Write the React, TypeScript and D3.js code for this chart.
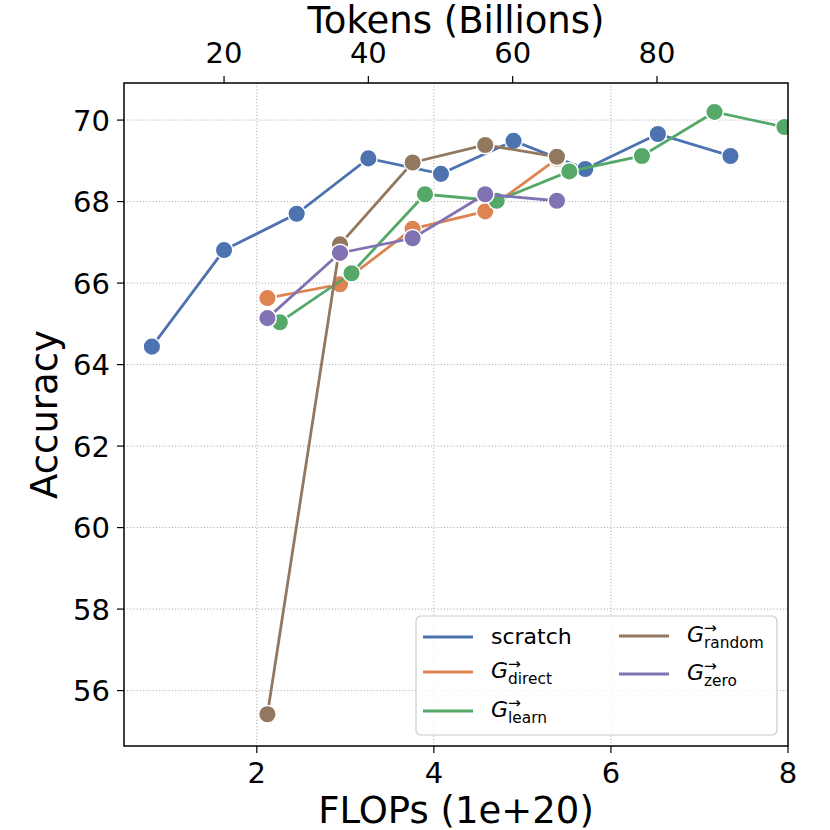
import * as d3 from "d3";

// FLOPs (1e+20) on x, accuracy on y
const scratchFlops = [0.815, 1.63, 2.45, 3.26, 4.08, 4.9, 5.71, 6.53, 7.35];
const scratchAcc = [64.44, 66.81, 67.7, 69.06, 68.68, 69.49, 68.8, 69.66, 69.12];

const directFlops = [2.12, 2.94, 3.76, 4.58, 5.39];
const directAcc = [65.63, 65.97, 67.33, 67.76, 69.05];

const learnFlops = [2.26, 3.07, 3.9, 4.71, 5.53, 6.35, 7.17, 7.96];
const learnAcc = [65.04, 66.24, 68.18, 68.02, 68.74, 69.12, 70.2, 69.83];

const randomFlops = [2.12, 2.94, 3.76, 4.58, 5.39];
const randomAcc = [55.42, 66.95, 68.96, 69.39, 69.1];

const zeroFlops = [2.12, 2.94, 3.76, 4.58, 5.39];
const zeroAcc = [65.14, 66.74, 67.1, 68.18, 68.02];

const xTicks = [2, 4, 6, 8];
const yTicks = [56, 58, 60, 62, 64, 66, 68, 70];
const tokenTicks = [20, 40, 60, 80];
const tokensPerFlop = 12.27;

const colors = {
  scratch: "#4C72B0",
  direct: "#DD8452",
  learn: "#55A868",
  random: "#937860",
  zero: "#8172B3",
};

const series = [
  { key: "scratch", x: scratchFlops, y: scratchAcc, color: colors.scratch },
  { key: "direct", x: directFlops, y: directAcc, color: colors.direct },
  { key: "learn", x: learnFlops, y: learnAcc, color: colors.learn },
  { key: "random", x: randomFlops, y: randomAcc, color: colors.random },
  { key: "zero", x: zeroFlops, y: zeroAcc, color: colors.zero },
];

const W = 830;
const H = 830;
const left = 124;
const right = 788;
const top = 83;
const bottom = 746;
const font = "DejaVu Sans";
const tickSize = 29;
const labelSize = 37;

const x = d3.scaleLinear().domain([0.5, 8]).range([left, right]);
const y = d3.scaleLinear().domain([54.64, 70.91]).range([bottom, top]);
const xTop = d3
  .scaleLinear()
  .domain([0.5 * tokensPerFlop, 8 * tokensPerFlop])
  .range([left, right]);

const line = d3
  .line<[number, number]>()
  .x((d) => x(d[0]))
  .y((d) => y(d[1]));

// italic G with an arrow on top and a subscript, as one text element
const LegendLabel = (props: { lx: number; ly: number; sub?: string; text?: string }) => {
  const { lx, ly, sub, text } = props;
  if (text) {
    return (
      <text x={lx} y={ly} fontSize={22} fontFamily={font}>
        {text}
      </text>
    );
  }
  return (
    <text x={lx} y={ly} fontSize={22} fontFamily={font}>
      <tspan fontStyle="italic">G</tspan>
      <tspan x={lx + 17} dy={-9} fontSize={15.4}>
        →
      </tspan>
      <tspan x={lx + 17} dy={15} fontSize={15.4}>
        {sub}
      </tspan>
    </text>
  );
};

const legendItems = [
  { color: colors.scratch, lineX: 423, lineY: 637, text: "scratch" },
  { color: colors.direct, lineX: 423, lineY: 672, sub: "direct" },
  { color: colors.learn, lineX: 423, lineY: 711, sub: "learn" },
  { color: colors.random, lineX: 619, lineY: 636, sub: "random" },
  { color: colors.zero, lineX: 619, lineY: 674, sub: "zero" },
];

export default function App() {
  return (
    <svg width={W} height={H} style={{ position: "absolute", left: 0, top: 0 }}>
      <defs>
        <clipPath id="plot-clip">
          <rect x={left} y={top} width={right - left} height={bottom - top} />
        </clipPath>
      </defs>
      <rect x={0} y={0} width={W} height={H} fill="white" />

      {/* grid */}
      <g stroke="#a0a0a0" strokeWidth={1} strokeDasharray="1,2.2">
        {xTicks
          .filter((t) => x(t) < right - 1)
          .map((t) => (
            <line key={"gx" + t} x1={x(t)} x2={x(t)} y1={top} y2={bottom} />
          ))}
        {yTicks.map((t) => (
          <line key={"gy" + t} x1={left} x2={right} y1={y(t)} y2={y(t)} />
        ))}
      </g>

      {/* series */}
      <g clipPath="url(#plot-clip)">
        {series.map((s) => {
          const pts = s.x.map((v, i) => [v, s.y[i]] as [number, number]);
          return (
            <g key={s.key}>
              <path d={line(pts) ?? ""} fill="none" stroke={s.color} strokeWidth={2.8} />
              {pts.map((p, i) => (
                <circle
                  key={i}
                  cx={x(p[0])}
                  cy={y(p[1])}
                  r={8.8}
                  fill={s.color}
                  stroke="white"
                  strokeWidth={1.5}
                />
              ))}
            </g>
          );
        })}
      </g>

      {/* frame */}
      <rect
        x={left}
        y={top}
        width={right - left}
        height={bottom - top}
        fill="none"
        stroke="black"
        strokeWidth={1.5}
      />

      {/* bottom axis */}
      {xTicks.map((t) => (
        <g key={"bx" + t}>
          <line x1={x(t)} x2={x(t)} y1={bottom} y2={bottom + 7} stroke="black" strokeWidth={1.2} />
          <text x={x(t)} y={783} fontSize={tickSize} fontFamily={font} textAnchor="middle">
            {t}
          </text>
        </g>
      ))}
      <text x={456} y={823} fontSize={labelSize} fontFamily={font} textAnchor="middle">
        FLOPs (1e+20)
      </text>

      {/* top axis */}
      {tokenTicks.map((t) => (
        <g key={"tx" + t}>
          <line x1={xTop(t)} x2={xTop(t)} y1={top} y2={top - 7} stroke="black" strokeWidth={1.2} />
          <text x={xTop(t)} y={63} fontSize={tickSize} fontFamily={font} textAnchor="middle">
            {t}
          </text>
        </g>
      ))}
      <text x={456} y={33} fontSize={labelSize} fontFamily={font} textAnchor="middle">
        Tokens (Billions)
      </text>

      {/* left axis */}
      {yTicks.map((t) => (
        <g key={"ly" + t}>
          <line x1={left} x2={left - 7} y1={y(t)} y2={y(t)} stroke="black" strokeWidth={1.2} />
          <text
            x={110}
            y={y(t)}
            dy="0.36em"
            fontSize={tickSize}
            fontFamily={font}
            textAnchor="end"
          >
            {t}
          </text>
        </g>
      ))}
      <text
        transform={`translate(57, ${(top + bottom) / 2}) rotate(-90)`}
        fontSize={labelSize}
        fontFamily={font}
        textAnchor="middle"
      >
        Accuracy
      </text>

      {/* legend */}
      <rect
        x={416}
        y={616}
        width={361}
        height={119}
        rx={5}
        fill="white"
        fillOpacity={0.8}
        stroke="#cccccc"
        strokeWidth={1.2}
      />
      {legendItems.map((it, i) => (
        <g key={"lg" + i}>
          <line
            x1={it.lineX}
            x2={it.lineX + 50}
            y1={it.lineY}
            y2={it.lineY}
            stroke={it.color}
            strokeWidth={2.8}
          />
          <LegendLabel lx={it.lineX + 68} ly={it.lineY + (it.text ? 7 : 6)} sub={it.sub} text={it.text} />
        </g>
      ))}
    </svg>
  );
}
